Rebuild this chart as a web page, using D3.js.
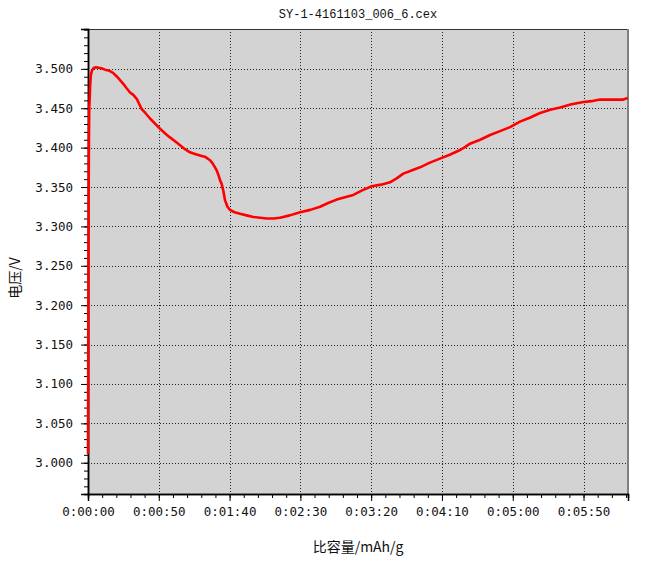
<!DOCTYPE html>
<html><head><meta charset="utf-8">
<script src="https://cdn.jsdelivr.net/npm/d3@7"></script>
<style>body{margin:0;background:#fff}svg{display:block}</style>
</head><body>
<script>
const title = "SY-1-4161103_006_6.cex";
const xLabel = "比容量/mAh/g";
const yLabel = "电压/V";
const xTicks = [0, 50, 100, 150, 200, 250, 300, 350];
const xTickLabels = ["0:00:00","0:00:50","0:01:40","0:02:30","0:03:20","0:04:10","0:05:00","0:05:50"];
const yTicks = [3.0, 3.05, 3.1, 3.15, 3.2, 3.25, 3.3, 3.35, 3.4, 3.45, 3.5];
const yTickLabels = ["3.000","3.050","3.100","3.150","3.200","3.250","3.300","3.350","3.400","3.450","3.500"];
const capacity = [0, 0.1, 0.2, 0.3, 0.4, 0.5, 0.7, 0.9, 1.2, 1.5, 2.0, 2.8, 4.0, 5.6, 8.5, 10.5, 12.0, 14.5, 17.7, 20.5, 22.5, 24.9, 27.0, 29.7, 32.0, 34.4, 36.0, 37.9, 40.5, 43.8, 47.0, 50.9, 54.5, 57.9, 61.5, 65.0, 68.5, 72.0, 75.5, 79.1, 83.0, 86.2, 88.0, 89.7, 90.9, 92.0, 93.2, 94.4, 95.6, 96.8, 98.5, 100.3, 103.5, 107.4, 112.0, 116.8, 121.5, 126.2, 131.0, 135.6, 142.5, 149.8, 157.0, 163.9, 170.0, 175.7, 181.5, 187.4, 194.0, 200.4, 207.0, 213.3, 218.0, 222.7, 228.5, 234.5, 241.5, 248.6, 255.5, 262.8, 266.5, 269.8, 277.0, 284.0, 291.0, 298.1, 305.1, 312.0, 319.3, 326.5, 333.4, 341.5, 349.9, 355.5, 361.6, 370.0, 378.1, 381.2];
const voltage = [3.011, 3.08, 3.16, 3.24, 3.31, 3.36, 3.42, 3.452, 3.462, 3.478, 3.492, 3.498, 3.501, 3.502, 3.501, 3.500, 3.499, 3.498, 3.495, 3.490, 3.486, 3.481, 3.476, 3.470, 3.467, 3.462, 3.456, 3.449, 3.444, 3.437, 3.431, 3.424, 3.418, 3.413, 3.408, 3.403, 3.398, 3.394, 3.392, 3.390, 3.388, 3.384, 3.380, 3.375, 3.371, 3.366, 3.359, 3.354, 3.345, 3.333, 3.325, 3.321, 3.318, 3.316, 3.314, 3.312, 3.311, 3.310, 3.310, 3.311, 3.314, 3.318, 3.321, 3.325, 3.330, 3.334, 3.337, 3.340, 3.346, 3.351, 3.353, 3.356, 3.361, 3.367, 3.371, 3.375, 3.381, 3.386, 3.391, 3.397, 3.401, 3.405, 3.410, 3.416, 3.421, 3.426, 3.433, 3.438, 3.444, 3.448, 3.451, 3.455, 3.458, 3.459, 3.461, 3.461, 3.461, 3.463];

const W = 664, H = 563;
const L = 88, R = 628, T = 29, B = 494;
const svg = d3.select("body").append("svg").attr("width", W).attr("height", H);

const x = d3.scaleLinear().domain([0, 381.4]).range([L, R]);
const y = d3.scaleLinear().domain([2.9603, 3.5506]).range([B, T]);

svg.append("rect").attr("x", L).attr("y", T).attr("width", R - L).attr("height", B - T).attr("fill", "#d3d3d3");

// grid
const g = svg.append("g");
g.selectAll(".vg").data(xTicks.filter(d => d > 0)).join("line")
  .attr("x1", d => Math.round(x(d)) + 0.5).attr("x2", d => Math.round(x(d)) + 0.5)
  .attr("y1", T).attr("y2", B).attr("stroke", "#222").attr("stroke-dasharray", "1,2");
g.selectAll(".hg").data(yTicks).join("line")
  .attr("y1", d => Math.round(y(d)) + 0.5).attr("y2", d => Math.round(y(d)) + 0.5)
  .attr("x1", L).attr("x2", R).attr("stroke", "#222").attr("stroke-dasharray", "1,2");

// frame top/right
svg.append("line").attr("x1", L).attr("x2", R).attr("y1", T + 0.5).attr("y2", T + 0.5).attr("stroke", "#333");
svg.append("line").attr("x1", R).attr("x2", R).attr("y1", T).attr("y2", B).attr("stroke", "#808080").attr("stroke-width", 2);

// axes
const xMinor = d3.range(0, 381, 10);
const yMinor = d3.range(2.97, 3.5501, 0.01);
const xAxisMinor = d3.axisBottom(x).tickValues(xMinor).tickSize(4).tickFormat("");
const xAxis = d3.axisBottom(x).tickValues(xTicks).tickSize(7).tickFormat((d, i) => xTickLabels[i]).tickPadding(6);
const yAxisMinor = d3.axisLeft(y).tickValues(yMinor).tickSize(4).tickFormat("");
const yAxis = d3.axisLeft(y).tickValues(yTicks).tickSize(7).tickFormat((d, i) => yTickLabels[i]).tickPadding(8);

function style(sel) {
  sel.select(".domain").attr("stroke", "#000").attr("stroke-width", 1.5);
  sel.selectAll(".tick line").attr("stroke", "#000");
  sel.selectAll("text").attr("font-family", "'DejaVu Sans Mono', monospace").attr("font-size", 12.5).attr("fill", "#111");
}
svg.append("g").attr("transform", `translate(0,${B})`).call(xAxisMinor).call(style);
svg.append("g").attr("transform", `translate(0,${B})`).call(xAxis).call(style);
svg.append("g").attr("transform", `translate(${L},0)`).call(yAxisMinor).call(style);
svg.append("g").attr("transform", `translate(${L},0)`).call(yAxis).call(style);

// curve
const data = capacity.map((c, i) => [c, voltage[i]]);
svg.append("path").datum(data)
  .attr("d", d3.line().x(d => x(d[0])).y(d => y(d[1])))
  .attr("fill", "none").attr("stroke", "#f00").attr("stroke-width", 2.6).attr("stroke-linejoin", "round");

// title & labels
svg.append("text").attr("x", (L + R) / 2).attr("y", 18).attr("text-anchor", "middle")
  .attr("font-family", "'Liberation Mono', monospace").attr("font-size", 12).attr("fill", "#111").text(title);
svg.append("text").attr("x", (L + R) / 2).attr("y", 552).attr("text-anchor", "middle")
  .attr("font-family", "'Noto Sans CJK SC', sans-serif").attr("font-size", 14).attr("fill", "#111").text(xLabel);
svg.append("text").attr("transform", "translate(20,278) rotate(-90)").attr("text-anchor", "middle")
  .attr("font-family", "'Noto Sans CJK SC', sans-serif").attr("font-size", 14).attr("fill", "#111").text(yLabel);
</script>
</body></html>
